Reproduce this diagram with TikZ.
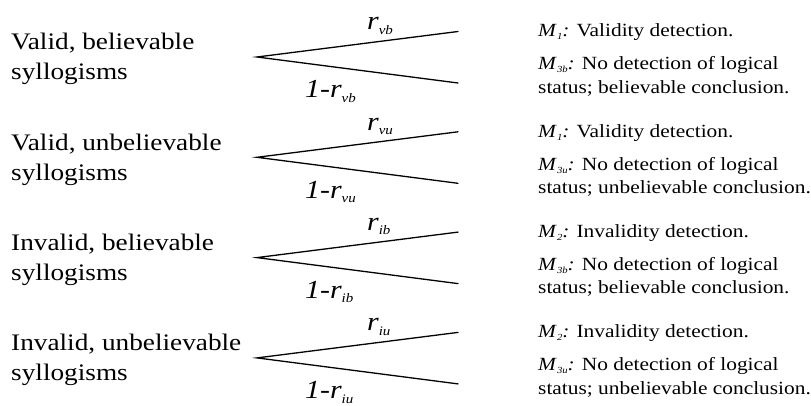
\documentclass[tikz,border=0pt]{standalone}
\usepackage{fontspec}
\usepackage{graphicx}
\setmainfont[FakeStretch=1.15]{Liberation Serif}
\newcommand\lsub[1]{\raisebox{-0.35ex}{\scalebox{0.5}{\itshape #1}}}
\tikzset{
  lefttext/.style={inner sep=0pt, anchor=base west, align=left, font=\fontsize{23.7}{30}\selectfont},
  problab/.style={inner sep=0pt, anchor=base west, font=\fontsize{26}{26}\selectfont\itshape},
  righttext/.style={inner sep=0pt, anchor=base west, align=left, font=\fontsize{18.6}{23.3}\selectfont},
  branch/.style={line width=1.3pt, line cap=round}
}
\begin{document}
\begin{tikzpicture}[x=1pt,y=-1pt]
\useasboundingbox (0,0) rectangle (811,406);
\foreach \k/\la/\sb/\ma/\da/\mb/\cc in {
  0/{Valid, believable}/vb/1/Validity/3b/believable,
  1/{Valid, unbelievable}/vu/1/Validity/3u/unbelievable,
  2/{Invalid, believable}/ib/2/Invalidity/3b/believable,
  3/{Invalid, unbelievable}/iu/2/Invalidity/3u/unbelievable}{
  \begin{scope}[shift={(0,100.3*\k)}]
    \node[lefttext] (L\k) at (11,80) {\la\\syllogisms};
    \coordinate (A\k) at (257,57);
    \coordinate (U\k) at (458,31.5);
    \coordinate (D\k) at (458,83);
    \draw[branch] (U\k) -- (A\k) -- (D\k);
    \node[problab] (P\k) at (367,30) {r\lsub{\sb}};
    \node[problab] (Q\k) at (305,98) {1-r\lsub{\sb}};
    \node[righttext] (M\k) at (538,37) {\textit{M}\lsub{\ma}\textit{:} \da{} detection.};
    \node[righttext] (N\k) at (538,93.3) {\textit{M}\lsub{\mb}\textit{:} No detection of logical\\status; \cc{} conclusion.};
  \end{scope}
}
\end{tikzpicture}
\end{document}
